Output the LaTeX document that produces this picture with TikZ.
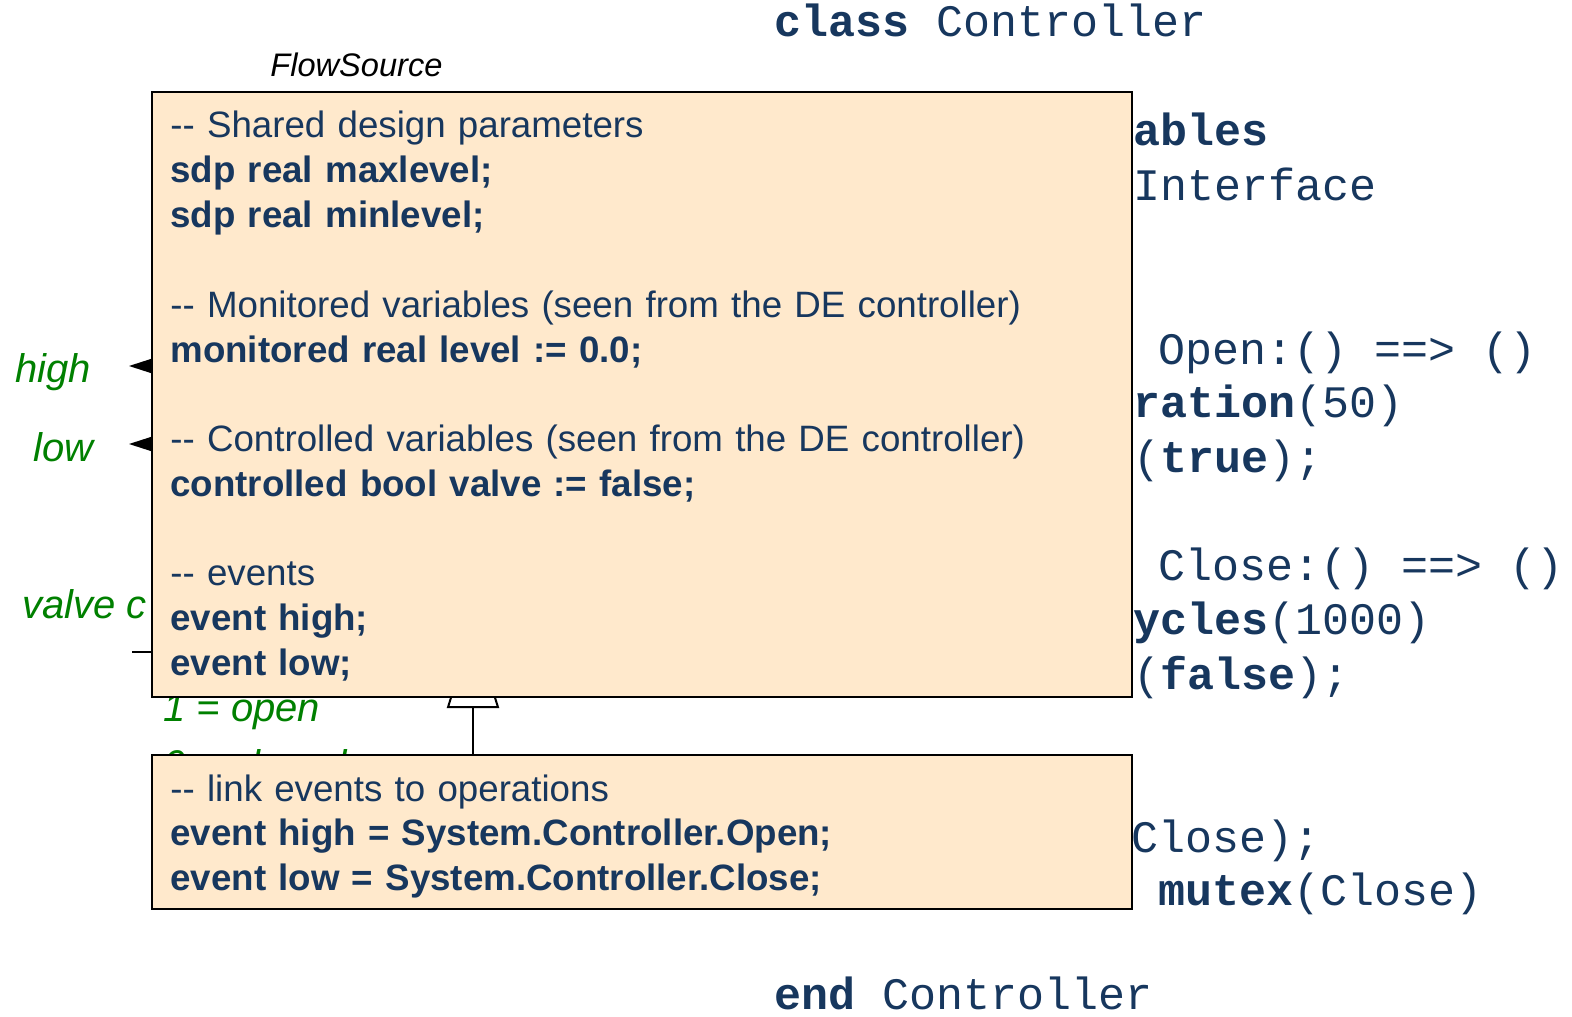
\documentclass[tikz,border=0pt]{standalone}
\usepackage{fontspec}
\setmainfont{Liberation Sans}
\setmonofont{Liberation Mono}
\usetikzlibrary{arrows.meta}
\definecolor{codeblue}{RGB}{23,55,94}
\definecolor{notefill}{RGB}{255,233,204}
\definecolor{signalgreen}{RGB}{0,128,0}

\begin{document}
\begin{tikzpicture}[x=0.5pt,y=-0.5pt,
    code/.style={anchor=base west,inner sep=0,text=codeblue,font=\fontsize{22.5}{27}\selectfont\ttfamily},
    signal/.style={anchor=base west,inner sep=0,text=signalgreen,font=\fontsize{20}{24}\selectfont\itshape},
    notebox/.style={draw=black,line width=1pt,fill=notefill,anchor=north west,inner sep=0,minimum width=490pt},
    notetext/.style={anchor=base west,inner sep=0,text=codeblue,align=left,text width=475pt,font=\fontsize{18.35}{22.4}\selectfont},
    generalize/.style={line width=1pt,-{Triangle[fill=white,length=42.5pt,width=26pt,line width=1pt]}}]
        \fill[white] (0,0) rectangle (1572,1016);
        \useasboundingbox (0,0) rectangle (1572,1016);
        % code of the controller class (behind the notes)
        \node[code] (clshead) at (774,37) {\textbf{class} Controller};
        \node[code] (vars) at (1133,146) {\textbf{ables}};
        \node[code] (iface) at (1133,200) {Interface};
        \node[code] (openop) at (1158,364) {Open:() ==> ()};
        \node[code] (ration) at (1133,417) {\textbf{ration}(50)};
        \node[code] (settrue) at (1133,472) {(\textbf{true});};
        \node[code] (closeop) at (1158,580) {Close:() ==> ()};
        \node[code] (cycles) at (1133,634) {\textbf{ycles}(1000)};
        \node[code] (setfalse) at (1133,689) {(\textbf{false});};
        \node[code] (closeref) at (1131,852) {Close);};
        \node[code] (mutex) at (1158,905) {\textbf{mutex}(Close)};
        \node[code] (clsend) at (774,1009) {\textbf{end} Controller};
        % flow source block
        \node[anchor=base west,inner sep=0,font=\fontsize{16.3}{19}\selectfont\itshape] (flowsrc) at (270,77) {FlowSource};
        \node[signal] (high) at (15,382) {high};
        \node[signal] (low) at (33,461) {low};
        \node[signal] (valvec) at (22,618) {valve c};
        \node[signal] (vopen) at (163,721) {1 = open};
        \node[signal] (vclosed) at (163,778) {0 = closed};
        \fill (160,356) -- (129,366) -- (160,376) -- cycle;
        \fill (160,434) -- (129,444) -- (160,454) -- cycle;
        \draw[line width=1pt] (132,652) -- (160,652);
        % notes
        \node[notebox,minimum height=77pt] (linkbox) at (151,754) {};
        \coordinate (genapex) at (473,623);
        \draw[generalize] (linkbox.north -| genapex) -- (genapex);
        \node[notebox,minimum height=302.5pt] (sharedbox) at (151,91) {};
        \node[notetext] (sharedtext) at (170,138) {-{}- Shared design parameters\\
            \textbf{sdp real maxlevel;}\\
            \textbf{sdp real minlevel;}\\[22.4pt]
            -{}- Monitored variables (seen from the DE controller)\\
            \textbf{monitored real level := 0.0;}\\[22.4pt]
            -{}- Controlled variables (seen from the DE controller)\\
            \textbf{controlled bool valve := false;}\\[22.4pt]
            -{}- events\\
            \textbf{event high;}\\
            \textbf{event low;}};
        \node[notetext] (linktext) at (170,801) {-{}- link events to operations\\
            \textbf{event high = System.Controller.Open;}\\
            \textbf{event low = System.Controller.Close;}};
      \end{tikzpicture}
\end{document}
